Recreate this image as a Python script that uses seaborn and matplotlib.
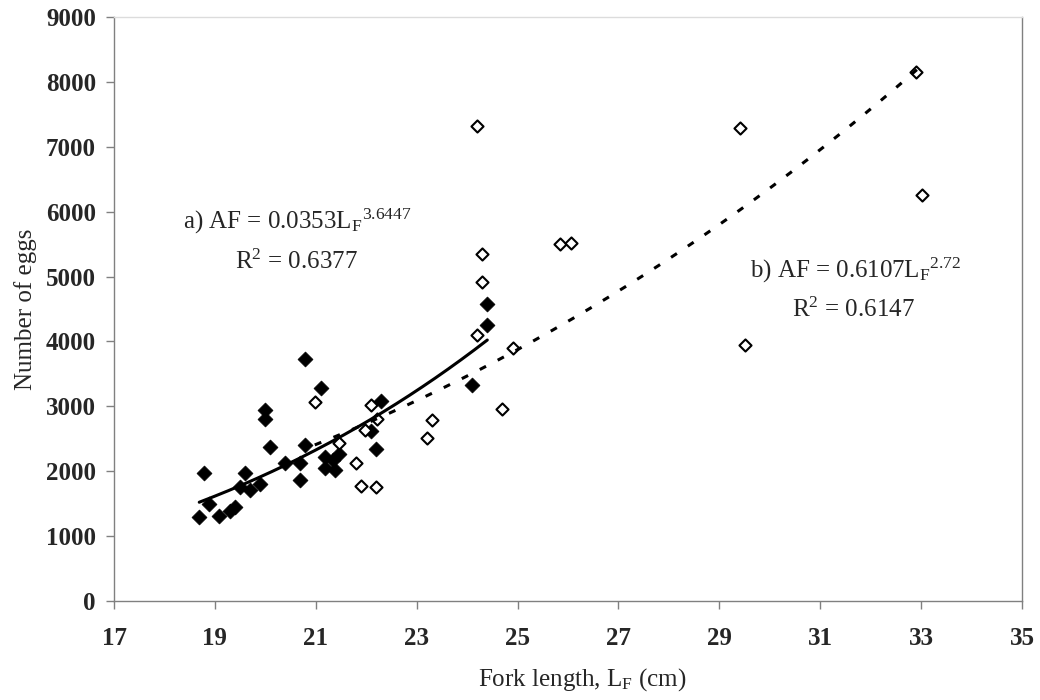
import numpy as np
import pandas as pd
import matplotlib
matplotlib.use("Agg")
import matplotlib.pyplot as plt
import seaborn as sns

# Group a (filled diamonds): fork length (cm) and number of eggs
length_a = [18.69, 18.79, 18.89, 19.09, 19.29, 19.40, 19.50, 19.60, 19.70, 19.89,
            19.99, 19.99, 20.09, 20.39, 20.69, 20.69, 20.79, 20.79, 21.10, 21.18,
            21.18, 21.34, 21.38, 21.46, 22.10, 22.19, 22.29, 24.09, 24.40, 24.40]
eggs_a = [1294, 1968, 1495, 1310, 1392, 1453, 1761, 1968, 1710, 1803,
          2943, 2800, 2378, 2131, 2131, 1870, 2404, 3725, 3290, 2224,
          2045, 2173, 2019, 2265, 2627, 2338, 3082, 3329, 4577, 4253]

# Group b (open diamonds)
length_b = [20.98, 22.09, 22.21, 21.98, 21.47, 21.79, 21.89, 22.19, 23.20, 23.30,
            24.19, 24.29, 24.29, 24.19, 24.90, 24.69, 25.85, 26.05, 29.40, 29.51,
            32.90, 33.01]
eggs_b = [3067, 3020, 2805, 2635, 2439, 2131, 1777, 1752, 2516, 2789,
          7324, 5347, 4920, 4099, 3903, 2959, 5501, 5516, 7284, 3950,
          8147, 6256]

# Power-law fits AF = c * LF^k
coef_a, exp_a, r2_a = 0.0353, 3.6447, 0.6377
coef_b, exp_b, r2_b = 0.6107, 2.72, 0.6147

x_ticks = list(range(17, 36, 2))
y_ticks = list(range(0, 9001, 1000))

sns.set_theme(style="white")
plt.rcParams["font.family"] = ["Liberation Serif", "DejaVu Serif"]
plt.rcParams["mathtext.fontset"] = "custom"
plt.rcParams["mathtext.rm"] = "Liberation Serif"
plt.rcParams["mathtext.it"] = "Liberation Serif:italic"
plt.rcParams["mathtext.bf"] = "Liberation Serif:bold"

fig = plt.figure(figsize=(10.4, 7.0), dpi=100)
ax = fig.add_axes([114 / 1040, 1 - 601 / 700, 908 / 1040, 584 / 700])

df_a = pd.DataFrame({"length": length_a, "eggs": eggs_a})
df_b = pd.DataFrame({"length": length_b, "eggs": eggs_b})

sns.scatterplot(data=df_a, x="length", y="eggs", marker="D", s=58,
                color="black", edgecolor="black", linewidth=0.5, ax=ax, zorder=3)
sns.scatterplot(data=df_b, x="length", y="eggs", marker="D", s=38,
                facecolor="white", edgecolor="black", linewidth=1.5, ax=ax, zorder=3)

# Fitted curves over each group's length range
xa = np.linspace(min(length_a), max(length_a), 200)
xb = np.linspace(min(length_b), max(length_b), 200)
fit_a = pd.DataFrame({"length": xa, "eggs": coef_a * xa ** exp_a})
fit_b = pd.DataFrame({"length": xb, "eggs": coef_b * xb ** exp_b})
sns.lineplot(data=fit_b, x="length", y="eggs", color="black", linewidth=2.2,
             ax=ax, zorder=4)
ax.lines[-1].set_dashes((2.3, 4.3))
sns.lineplot(data=fit_a, x="length", y="eggs", color="black", linewidth=2.2,
             ax=ax, zorder=5)

ax.set_xlim(17, 35)
ax.set_ylim(0, 9000)
ax.set_xticks(x_ticks)
ax.set_yticks(y_ticks)
ax.set_xticklabels([str(t) for t in x_ticks], fontsize=18, fontweight="bold")
ax.set_yticklabels([str(t) for t in y_ticks], fontsize=18, fontweight="bold")
ax.tick_params(axis="both", direction="out", length=6, width=1, color="#808080",
               left=True, bottom=True)
ax.tick_params(axis="x", pad=13)
ax.tick_params(axis="y", pad=7)

for side in ["left", "bottom", "right"]:
    ax.spines[side].set_color("#808080")
    ax.spines[side].set_linewidth(1.0)
ax.spines["top"].set_color("#dcdcdc")
ax.spines["top"].set_linewidth(1.0)

ax.set_xlabel(r"Fork length, L$_\mathregular{F}$ (cm)", fontsize=18)
ax.set_ylabel("Number of eggs", fontsize=18)
ax.xaxis.set_label_coords((582 - 114) / 908, -(680 - 601) / 584)
ax.xaxis.label.set_va("center")
ax.yaxis.set_label_coords((26 - 114) / 908, 1 - (309 - 17) / 584)
ax.yaxis.label.set_va("center")

ax.text(0.076, 0.637,
        f"a) AF = {coef_a}L" + r"$_\mathregular{F}$" + r"$^\mathregular{" + f"{exp_a}" + "}$",
        transform=ax.transAxes, fontsize=18, ha="left", va="baseline")
ax.text(0.133, 0.568, r"R$^\mathregular{2}$" + f" = {r2_a}",
        transform=ax.transAxes, fontsize=18, ha="left", va="baseline")
ax.text(0.700, 0.553,
        f"b) AF = {coef_b}L" + r"$_\mathregular{F}$" + r"$^\mathregular{" + f"{exp_b}" + "}$",
        transform=ax.transAxes, fontsize=18, ha="left", va="baseline")
ax.text(0.747, 0.486, r"R$^\mathregular{2}$" + f" = {r2_b}",
        transform=ax.transAxes, fontsize=18, ha="left", va="baseline")

fig.savefig("out.png", dpi=100, facecolor="white")
